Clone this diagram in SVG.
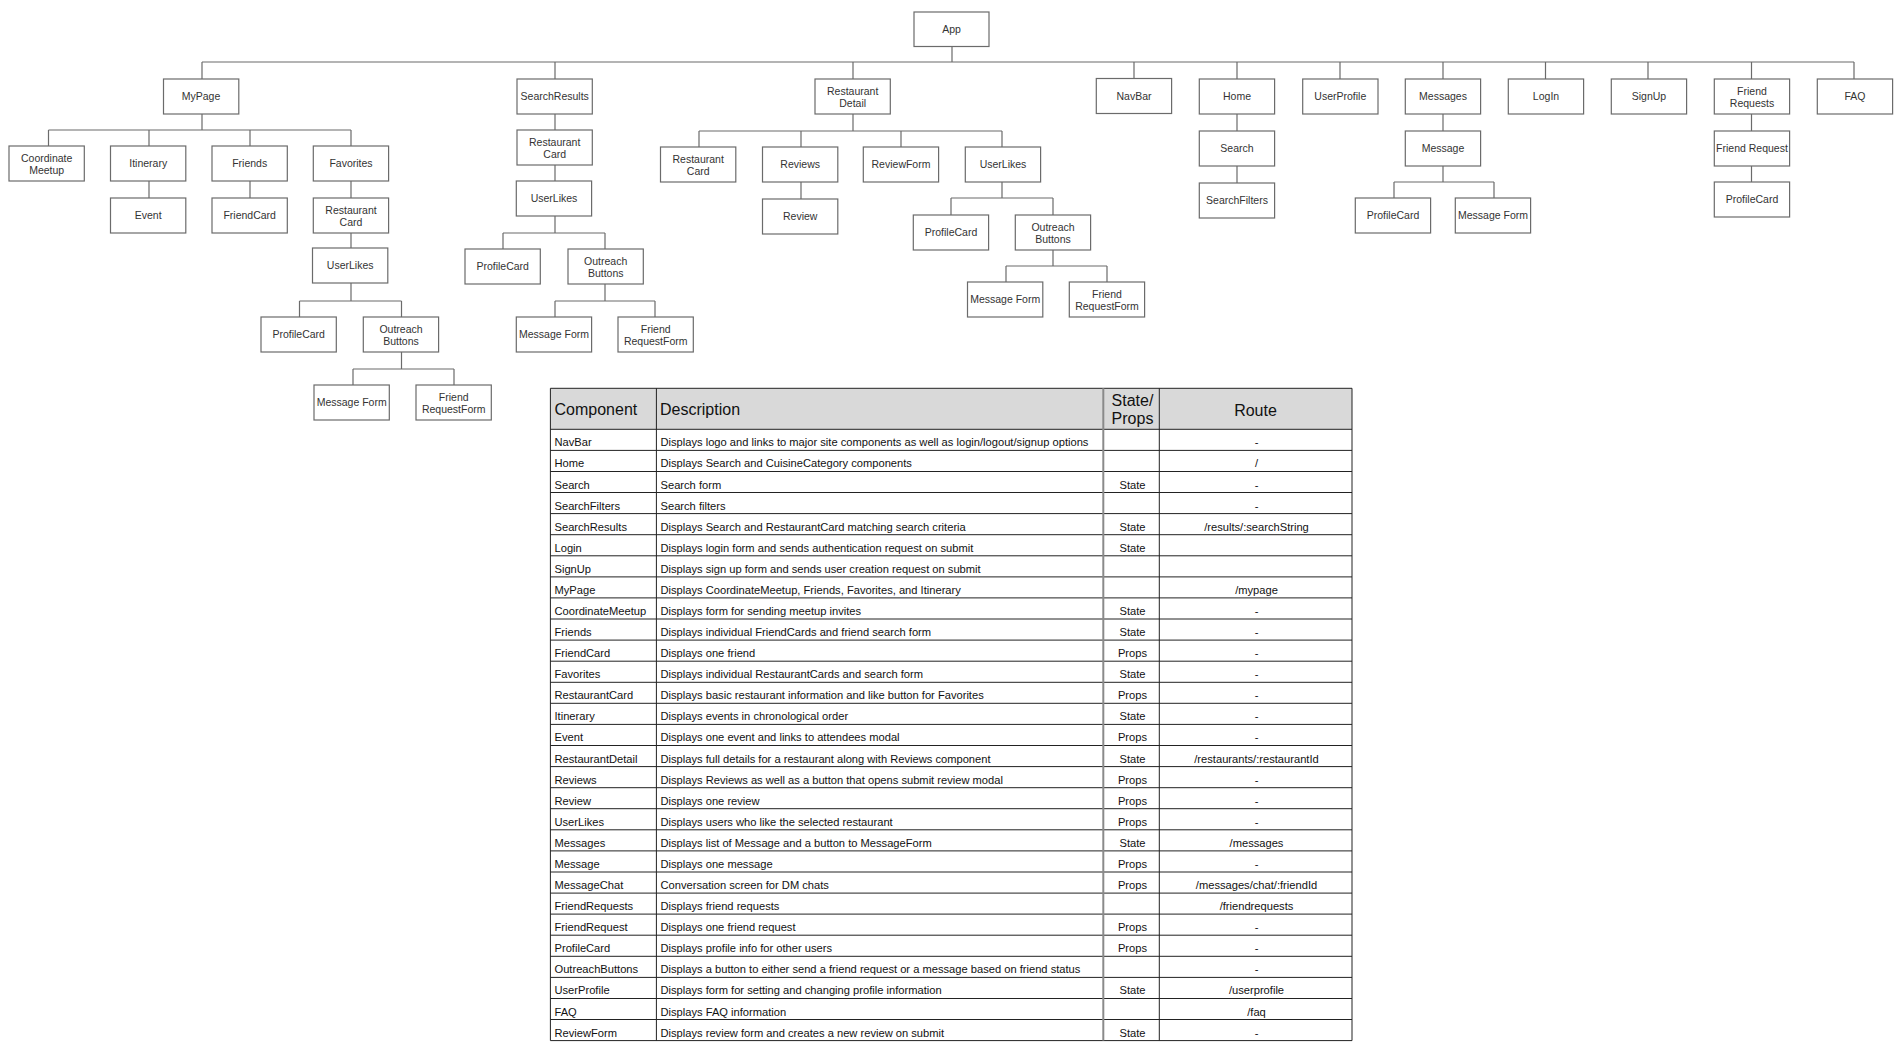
<svg xmlns="http://www.w3.org/2000/svg" width="1903" height="1054" viewBox="0 0 1903 1054">
<style>
.bg{fill:#ffffff}
.n rect{fill:#ffffff;stroke:#6b6b6b;stroke-width:1.2}
.n text{font-family:"Liberation Sans",Arial,sans-serif;font-size:10.5px;fill:#333;text-anchor:middle}
#connectors path{fill:none;stroke:#6b6b6b;stroke-width:1.2}
.tl{stroke:#222;stroke-width:1;fill:none}
.tg{stroke:#8a8a8a;stroke-width:2;fill:none}
.th{font-family:"Liberation Sans",Arial,sans-serif;font-size:16px;fill:#111}
.td{font-family:"Liberation Sans",Arial,sans-serif;font-size:11.15px;fill:#111}
.c{text-anchor:middle}
</style>
<rect class="bg" x="0" y="0" width="1903" height="1054"/>

<g id="connectors">
<path d="M952,46.5V62M202,62H1854"/>
<path d="M202,62V79M555,62V79M853,62V79M1134,62V79M1237,62V79M1340,62V79M1443,62V79M1545.5,62V79M1648,62V79M1751.5,62V79M1854,62V79"/>
<path d="M202,114V130M48.5,130H351M48.5,130V146M149,130V146M250,130V146M351,130V146"/>
<path d="M149,181V198M250,181V198M351,181V198M351,233V248M351,283V301M299.5,301H401.5M299.5,301V317M401.5,301V317"/>
<path d="M401.5,352V369M353,369H454M353,369V385M454,369V385"/>
<path d="M555,114V130M555,165V181M555,216V233M503,233H605M503,233V249M605,233V249"/>
<path d="M605,284V301M555,301H655M555,301V317M655,301V317"/>
<path d="M853,114V131M699,131H1002M699,131V147M801,131V147M901,131V147M1002,131V147"/>
<path d="M801,182V199M1002,182V198M951,198H1053M951,198V215M1053,198V215"/>
<path d="M1053,250V266M1006,266H1107M1006,266V282M1107,266V282"/>
<path d="M1237,114V131M1237,166V183"/>
<path d="M1443,114V131M1443,166V182M1394,182H1494M1394,182V198M1494,182V198"/>
<path d="M1751.5,114V131M1751.5,166V182"/>
</g>

<g id="n-app" class="n"><rect x="914" y="12" width="75" height="34.5"/><text x="951.5" y="33">App</text></g>

<g id="n-mypage" class="n"><rect x="163.5" y="79" width="75.3" height="35"/><text x="201" y="100">MyPage</text></g>
<g id="n-coordinatemeetup" class="n"><rect x="9" y="146" width="75.3" height="35"/><text x="46.7" y="162">Coordinate</text><text x="46.7" y="174">Meetup</text></g>
<g id="n-itinerary" class="n"><rect x="110.5" y="146" width="75.3" height="35"/><text x="148.2" y="167">Itinerary</text></g>
<g id="n-friends" class="n"><rect x="212" y="146" width="75.3" height="35"/><text x="249.7" y="167">Friends</text></g>
<g id="n-favorites" class="n"><rect x="313.3" y="146" width="75.3" height="35"/><text x="351" y="167">Favorites</text></g>
<g id="n-event" class="n"><rect x="110.5" y="198" width="75.3" height="35"/><text x="148.2" y="219">Event</text></g>
<g id="n-friendcard" class="n"><rect x="212" y="198" width="75.3" height="35"/><text x="249.7" y="219">FriendCard</text></g>
<g id="n-fav-restaurantcard" class="n"><rect x="313.3" y="198" width="75.3" height="35"/><text x="351" y="214">Restaurant</text><text x="351" y="226">Card</text></g>
<g id="n-fav-userlikes" class="n"><rect x="312.5" y="248" width="75.3" height="35"/><text x="350.2" y="269">UserLikes</text></g>
<g id="n-fav-profilecard" class="n"><rect x="261" y="317" width="75.3" height="35"/><text x="298.7" y="338">ProfileCard</text></g>
<g id="n-fav-outreach" class="n"><rect x="363.3" y="317" width="75.3" height="35"/><text x="401" y="333">Outreach</text><text x="401" y="345">Buttons</text></g>
<g id="n-fav-messageform" class="n"><rect x="314" y="385" width="75.3" height="35"/><text x="351.7" y="406">Message Form</text></g>
<g id="n-fav-friendrequestform" class="n"><rect x="416" y="385" width="75.3" height="35"/><text x="453.7" y="401">Friend</text><text x="453.7" y="413">RequestForm</text></g>

<g id="n-searchresults" class="n"><rect x="517" y="79" width="75.3" height="35"/><text x="554.7" y="100">SearchResults</text></g>
<g id="n-sr-restaurantcard" class="n"><rect x="517" y="130" width="75.3" height="35"/><text x="554.7" y="146">Restaurant</text><text x="554.7" y="158">Card</text></g>
<g id="n-sr-userlikes" class="n"><rect x="516.3" y="181" width="75.3" height="35"/><text x="554" y="202">UserLikes</text></g>
<g id="n-sr-profilecard" class="n"><rect x="465" y="249" width="75.3" height="35"/><text x="502.7" y="270">ProfileCard</text></g>
<g id="n-sr-outreach" class="n"><rect x="568" y="249" width="75.3" height="35"/><text x="605.7" y="265">Outreach</text><text x="605.7" y="277">Buttons</text></g>
<g id="n-sr-messageform" class="n"><rect x="516.3" y="317" width="75.3" height="35"/><text x="554" y="338">Message Form</text></g>
<g id="n-sr-friendrequestform" class="n"><rect x="618" y="317" width="75.3" height="35"/><text x="655.7" y="333">Friend</text><text x="655.7" y="345">RequestForm</text></g>

<g id="n-restaurantdetail" class="n"><rect x="815" y="79" width="75.3" height="35"/><text x="852.7" y="95">Restaurant</text><text x="852.7" y="107">Detail</text></g>
<g id="n-rd-restaurantcard" class="n"><rect x="660.5" y="147" width="75.3" height="35"/><text x="698.2" y="163">Restaurant</text><text x="698.2" y="175">Card</text></g>
<g id="n-reviews" class="n"><rect x="762.5" y="147" width="75.3" height="35"/><text x="800.2" y="168">Reviews</text></g>
<g id="n-reviewform" class="n"><rect x="863.3" y="147" width="75.3" height="35"/><text x="901" y="168">ReviewForm</text></g>
<g id="n-rd-userlikes" class="n"><rect x="965.3" y="147" width="75.3" height="35"/><text x="1003" y="168">UserLikes</text></g>
<g id="n-review" class="n"><rect x="762.5" y="199" width="75.3" height="35"/><text x="800.2" y="220">Review</text></g>
<g id="n-rd-profilecard" class="n"><rect x="913.3" y="215" width="75.3" height="35"/><text x="951" y="236">ProfileCard</text></g>
<g id="n-rd-outreach" class="n"><rect x="1015.3" y="215" width="75.3" height="35"/><text x="1053" y="231">Outreach</text><text x="1053" y="243">Buttons</text></g>
<g id="n-rd-messageform" class="n"><rect x="967.5" y="282" width="75.3" height="35"/><text x="1005.2" y="303">Message Form</text></g>
<g id="n-rd-friendrequestform" class="n"><rect x="1069.3" y="282" width="75.3" height="35"/><text x="1107" y="298">Friend</text><text x="1107" y="310">RequestForm</text></g>

<g id="n-navbar" class="n"><rect x="1096.3" y="78.5" width="75.3" height="35"/><text x="1134" y="99.5">NavBar</text></g>

<g id="n-home" class="n"><rect x="1199.3" y="79" width="75.3" height="35"/><text x="1237" y="100">Home</text></g>
<g id="n-search" class="n"><rect x="1199.3" y="131" width="75.3" height="35"/><text x="1237" y="152">Search</text></g>
<g id="n-searchfilters" class="n"><rect x="1199.3" y="183" width="75.3" height="35"/><text x="1237" y="204">SearchFilters</text></g>

<g id="n-userprofile" class="n"><rect x="1302.7" y="79" width="75.3" height="35"/><text x="1340.3" y="100">UserProfile</text></g>

<g id="n-messages" class="n"><rect x="1405.3" y="79" width="75.3" height="35"/><text x="1443" y="100">Messages</text></g>
<g id="n-message" class="n"><rect x="1405.3" y="131" width="75.3" height="35"/><text x="1443" y="152">Message</text></g>
<g id="n-msg-profilecard" class="n"><rect x="1355.3" y="198" width="75.3" height="35"/><text x="1393" y="219">ProfileCard</text></g>
<g id="n-msg-messageform" class="n"><rect x="1455.3" y="198" width="75.3" height="35"/><text x="1493" y="219">Message Form</text></g>

<g id="n-login" class="n"><rect x="1508.3" y="79" width="75.3" height="35"/><text x="1546" y="100">LogIn</text></g>
<g id="n-signup" class="n"><rect x="1611.3" y="79" width="75.3" height="35"/><text x="1649" y="100">SignUp</text></g>

<g id="n-friendrequests" class="n"><rect x="1714.3" y="79" width="75.3" height="35"/><text x="1752" y="95">Friend</text><text x="1752" y="107">Requests</text></g>
<g id="n-friendrequest" class="n"><rect x="1714.3" y="131" width="75.3" height="35"/><text x="1752" y="152">Friend Request</text></g>
<g id="n-fr-profilecard" class="n"><rect x="1714.3" y="182" width="75.3" height="35"/><text x="1752" y="203">ProfileCard</text></g>

<g id="n-faq" class="n"><rect x="1817.3" y="79" width="75.3" height="35"/><text x="1855" y="100">FAQ</text></g>

<g id="table">
<rect x="550.4" y="388.3" width="801.6" height="41" fill="#d9d9d9"/>
<path class="tl" d="M550.4,388.3H1352V1040.6H550.4Z"/>
<path class="tl" d="M550.4,429.3H1352M550.4,450.4H1352M550.4,471.5H1352M550.4,492.5H1352M550.4,513.6H1352M550.4,534.7H1352M550.4,555.8H1352M550.4,576.9H1352M550.4,597.9H1352M550.4,619H1352M550.4,640.1H1352M550.4,661.2H1352M550.4,682.3H1352M550.4,703.3H1352M550.4,724.4H1352M550.4,745.5H1352M550.4,766.6H1352M550.4,787.7H1352M550.4,808.7H1352M550.4,829.8H1352M550.4,850.9H1352M550.4,872H1352M550.4,893.1H1352M550.4,914.1H1352M550.4,935.2H1352M550.4,956.3H1352M550.4,977.4H1352M550.4,998.5H1352M550.4,1019.5H1352"/>
<path class="tl" d="M656.4,388.3V1040.6M1159.3,388.3V1040.6"/>
<path class="tg" d="M1103.3,388.3V1040.6"/>
<text class="th" x="554.5" y="415">Component</text>
<text class="th" x="660" y="415">Description</text>
<text class="th c" x="1132.5" y="406.4">State/</text>
<text class="th c" x="1132.5" y="424">Props</text>
<text class="th c" x="1255.5" y="415.7">Route</text>

<g class="td" transform="translate(1,2)">
<text x="553.5" y="444.3">NavBar</text><text x="659.5" y="444.3">Displays logo and links to major site components as well as login/logout/signup options</text><text class="c" x="1255.5" y="444.3">-</text>
<text x="553.5" y="465.4">Home</text><text x="659.5" y="465.4">Displays Search and CuisineCategory components</text><text class="c" x="1255.5" y="465.4">/</text>
<text x="553.5" y="486.5">Search</text><text x="659.5" y="486.5">Search form</text><text class="c" x="1131.5" y="486.5">State</text><text class="c" x="1255.5" y="486.5">-</text>
<text x="553.5" y="507.5">SearchFilters</text><text x="659.5" y="507.5">Search filters</text><text class="c" x="1255.5" y="507.5">-</text>
<text x="553.5" y="528.6">SearchResults</text><text x="659.5" y="528.6">Displays Search and RestaurantCard matching search criteria</text><text class="c" x="1131.5" y="528.6">State</text><text class="c" x="1255.5" y="528.6">/results/:searchString</text>
<text x="553.5" y="549.7">Login</text><text x="659.5" y="549.7">Displays login form and sends authentication request on submit</text><text class="c" x="1131.5" y="549.7">State</text>
<text x="553.5" y="570.8">SignUp</text><text x="659.5" y="570.8">Displays sign up form and sends user creation request on submit</text>
<text x="553.5" y="591.9">MyPage</text><text x="659.5" y="591.9">Displays CoordinateMeetup, Friends, Favorites, and Itinerary</text><text class="c" x="1255.5" y="591.9">/mypage</text>
<text x="553.5" y="612.9">CoordinateMeetup</text><text x="659.5" y="612.9">Displays form for sending meetup invites</text><text class="c" x="1131.5" y="612.9">State</text><text class="c" x="1255.5" y="612.9">-</text>
<text x="553.5" y="634">Friends</text><text x="659.5" y="634">Displays individual FriendCards and friend search form</text><text class="c" x="1131.5" y="634">State</text><text class="c" x="1255.5" y="634">-</text>
<text x="553.5" y="655.1">FriendCard</text><text x="659.5" y="655.1">Displays one friend</text><text class="c" x="1131.5" y="655.1">Props</text><text class="c" x="1255.5" y="655.1">-</text>
<text x="553.5" y="676.2">Favorites</text><text x="659.5" y="676.2">Displays individual RestaurantCards and search form</text><text class="c" x="1131.5" y="676.2">State</text><text class="c" x="1255.5" y="676.2">-</text>
<text x="553.5" y="697.3">RestaurantCard</text><text x="659.5" y="697.3">Displays basic restaurant information and like button for Favorites</text><text class="c" x="1131.5" y="697.3">Props</text><text class="c" x="1255.5" y="697.3">-</text>
<text x="553.5" y="718.3">Itinerary</text><text x="659.5" y="718.3">Displays events in chronological order</text><text class="c" x="1131.5" y="718.3">State</text><text class="c" x="1255.5" y="718.3">-</text>
<text x="553.5" y="739.4">Event</text><text x="659.5" y="739.4">Displays one event and links to attendees modal</text><text class="c" x="1131.5" y="739.4">Props</text><text class="c" x="1255.5" y="739.4">-</text>
<text x="553.5" y="760.5">RestaurantDetail</text><text x="659.5" y="760.5">Displays full details for a restaurant along with Reviews component</text><text class="c" x="1131.5" y="760.5">State</text><text class="c" x="1255.5" y="760.5">/restaurants/:restaurantId</text>
<text x="553.5" y="781.6">Reviews</text><text x="659.5" y="781.6">Displays Reviews as well as a button that opens submit review modal</text><text class="c" x="1131.5" y="781.6">Props</text><text class="c" x="1255.5" y="781.6">-</text>
<text x="553.5" y="802.7">Review</text><text x="659.5" y="802.7">Displays one review</text><text class="c" x="1131.5" y="802.7">Props</text><text class="c" x="1255.5" y="802.7">-</text>
<text x="553.5" y="823.7">UserLikes</text><text x="659.5" y="823.7">Displays users who like the selected restaurant</text><text class="c" x="1131.5" y="823.7">Props</text><text class="c" x="1255.5" y="823.7">-</text>
<text x="553.5" y="844.8">Messages</text><text x="659.5" y="844.8">Displays list of Message and a button to MessageForm</text><text class="c" x="1131.5" y="844.8">State</text><text class="c" x="1255.5" y="844.8">/messages</text>
<text x="553.5" y="865.9">Message</text><text x="659.5" y="865.9">Displays one message</text><text class="c" x="1131.5" y="865.9">Props</text><text class="c" x="1255.5" y="865.9">-</text>
<text x="553.5" y="887">MessageChat</text><text x="659.5" y="887">Conversation screen for DM chats</text><text class="c" x="1131.5" y="887">Props</text><text class="c" x="1255.5" y="887">/messages/chat/:friendId</text>
<text x="553.5" y="908.1">FriendRequests</text><text x="659.5" y="908.1">Displays friend requests</text><text class="c" x="1255.5" y="908.1">/friendrequests</text>
<text x="553.5" y="929.1">FriendRequest</text><text x="659.5" y="929.1">Displays one friend request</text><text class="c" x="1131.5" y="929.1">Props</text><text class="c" x="1255.5" y="929.1">-</text>
<text x="553.5" y="950.2">ProfileCard</text><text x="659.5" y="950.2">Displays profile info for other users</text><text class="c" x="1131.5" y="950.2">Props</text><text class="c" x="1255.5" y="950.2">-</text>
<text x="553.5" y="971.3">OutreachButtons</text><text x="659.5" y="971.3">Displays a button to either send a friend request or a message based on friend status</text><text class="c" x="1255.5" y="971.3">-</text>
<text x="553.5" y="992.4">UserProfile</text><text x="659.5" y="992.4">Displays form for setting and changing profile information</text><text class="c" x="1131.5" y="992.4">State</text><text class="c" x="1255.5" y="992.4">/userprofile</text>
<text x="553.5" y="1013.5">FAQ</text><text x="659.5" y="1013.5">Displays FAQ information</text><text class="c" x="1255.5" y="1013.5">/faq</text>
<text x="553.5" y="1034.5">ReviewForm</text><text x="659.5" y="1034.5">Displays review form and creates a new review on submit</text><text class="c" x="1131.5" y="1034.5">State</text><text class="c" x="1255.5" y="1034.5">-</text>
</g>
</g>
</svg>
